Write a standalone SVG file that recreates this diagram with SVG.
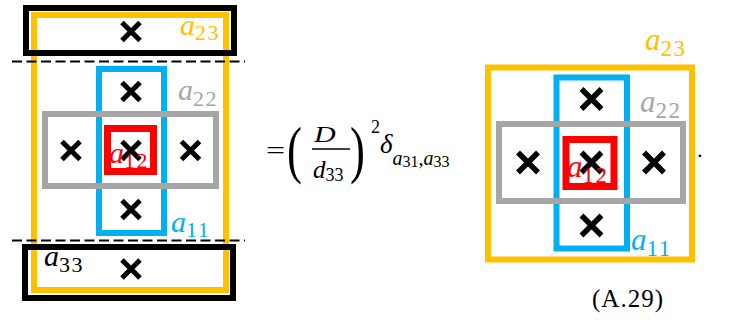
<svg xmlns="http://www.w3.org/2000/svg" width="729" height="335" viewBox="0 0 729 335">
<style>
.box{fill:none;stroke-width:6}
.y{stroke:#FFC000}.b{stroke:#00B0F0}.g{stroke:#A6A6A6}.r{stroke:#FF0000;stroke-width:7}.k{stroke:#000}
.dash{stroke:#000;stroke-width:2;stroke-dasharray:10,4.5}
text,tspan{font-family:"Liberation Serif","DejaVu Serif",serif}
.it{font-style:italic}
.L{font-size:30px}.S{font-size:22px;letter-spacing:1.5px}
.LR{font-size:31px}.SR{font-size:23px;letter-spacing:1.5px}
</style>
<defs>
<path id="x" d="M-9,-9L9,9M9,-9L-9,9" stroke="#000" stroke-width="5" fill="none"/>
<path id="xr" d="M-10,-10L10,10M10,-10L-10,10" stroke="#000" stroke-width="5.5" fill="none"/>
</defs>

<g id="left">
  <g id="L_yellow"><rect class="box y" x="34" y="15" width="192" height="275"/></g>
  <g id="L_blue"><rect class="box b" x="99" y="69" width="65" height="164"/></g>
  <g id="L_gray"><rect class="box g" x="45" y="114" width="171" height="72"/></g>
  <g id="L_red"><rect class="box r" x="107.5" y="128.5" width="46" height="43"/></g>
  <g id="L_topbox"><rect class="box k" x="26" y="8" width="208" height="45"/></g>
  <g id="L_botbox"><rect class="box k" x="25" y="247" width="208" height="51"/></g>
  <g id="L_dashes">
    <line class="dash" x1="12" y1="61.5" x2="245" y2="61.5"/>
    <line class="dash" x1="12" y1="240.5" x2="245" y2="240.5"/>
  </g>
  <g id="L_crosses">
    <use href="#x" x="131" y="31.5"/>
    <use href="#x" x="131" y="91.5"/>
    <use href="#x" x="71" y="150.5"/>
    <use href="#x" x="131" y="150.5"/>
    <use href="#x" x="190.5" y="150.5"/>
    <use href="#x" x="131" y="209.5"/>
    <use href="#x" x="131" y="269"/>
  </g>
  <g id="L_labels">
    <text x="180" y="35" fill="#FFC000"><tspan class="it L">a</tspan><tspan class="S" dy="5">23</tspan></text>
    <text x="178" y="100" fill="#A6A6A6"><tspan class="it L">a</tspan><tspan class="S" dy="6">22</tspan></text>
    <text x="109" y="163" fill="#FF0000"><tspan class="it L">a</tspan><tspan class="S" dy="5">12</tspan></text>
    <text x="171" y="232" fill="#00B0F0"><tspan class="it L">a</tspan><tspan class="S" dy="5">11</tspan></text>
    <text x="44" y="266" fill="#000"><tspan class="it L">a</tspan><tspan class="S" dy="6">33</tspan></text>
  </g>
</g>

<g id="equation" fill="#000">
  <text x="266" y="159.5" font-size="26" transform="translate(266 0) scale(1.3 1) translate(-266 0)">=</text>
  <text x="287" y="171" font-size="64" transform="translate(287 0) scale(0.7 1) translate(-287 0)">(</text>
  <text x="350" y="171" font-size="64" transform="translate(350 0) scale(0.7 1) translate(-350 0)">)</text>
  <text x="314" y="142" font-size="24" class="it" transform="translate(314 0) scale(1.25 1) translate(-314 0)">D</text>
  <line x1="312" y1="149" x2="350" y2="149" stroke="#000" stroke-width="1.3"/>
  <text x="313" y="178" font-size="25"><tspan class="it">d</tspan><tspan font-size="18" dy="3">33</tspan></text>
  <text x="371" y="133" font-size="18">2</text>
  <text x="380" y="153" font-size="27"><tspan class="it">δ</tspan><tspan class="it" font-size="20" dy="12">a</tspan><tspan font-size="16" dy="2">31</tspan><tspan font-size="20" dy="-2">,</tspan><tspan class="it" font-size="20">a</tspan><tspan font-size="16" dy="2">33</tspan></text>
  <text x="697" y="157" font-size="22">.</text>
</g>

<g id="right">
  <g id="R_yellow"><rect class="box y" x="488" y="67.5" width="204" height="192"/></g>
  <g id="R_blue"><rect class="box b" x="556.5" y="77.5" width="70.5" height="171"/></g>
  <g id="R_gray"><rect class="box g" x="499" y="124" width="184" height="77"/></g>
  <g id="R_red"><rect class="box r" x="566" y="139.5" width="48" height="47"/></g>
  <g id="R_crosses">
    <use href="#xr" x="591.5" y="99"/>
    <use href="#xr" x="528" y="162.5"/>
    <use href="#xr" x="591.5" y="162.5"/>
    <use href="#xr" x="654" y="162.5"/>
    <use href="#xr" x="591.5" y="225.5"/>
  </g>
  <g id="R_labels">
    <text x="645" y="50" fill="#FFC000"><tspan class="it LR">a</tspan><tspan class="SR" dy="6">23</tspan></text>
    <text x="640" y="112" fill="#A6A6A6"><tspan class="it LR">a</tspan><tspan class="SR" dy="6">22</tspan></text>
    <text x="567" y="177" fill="#FF0000"><tspan class="it LR">a</tspan><tspan class="SR" dy="6">12</tspan></text>
    <text x="631" y="250" fill="#00B0F0"><tspan class="it LR">a</tspan><tspan class="SR" dy="6">11</tspan></text>
  </g>
</g>

<g id="eqnum"><text x="592" y="307" font-size="25" textLength="71" fill="#000">(A.29)</text></g>
</svg>
